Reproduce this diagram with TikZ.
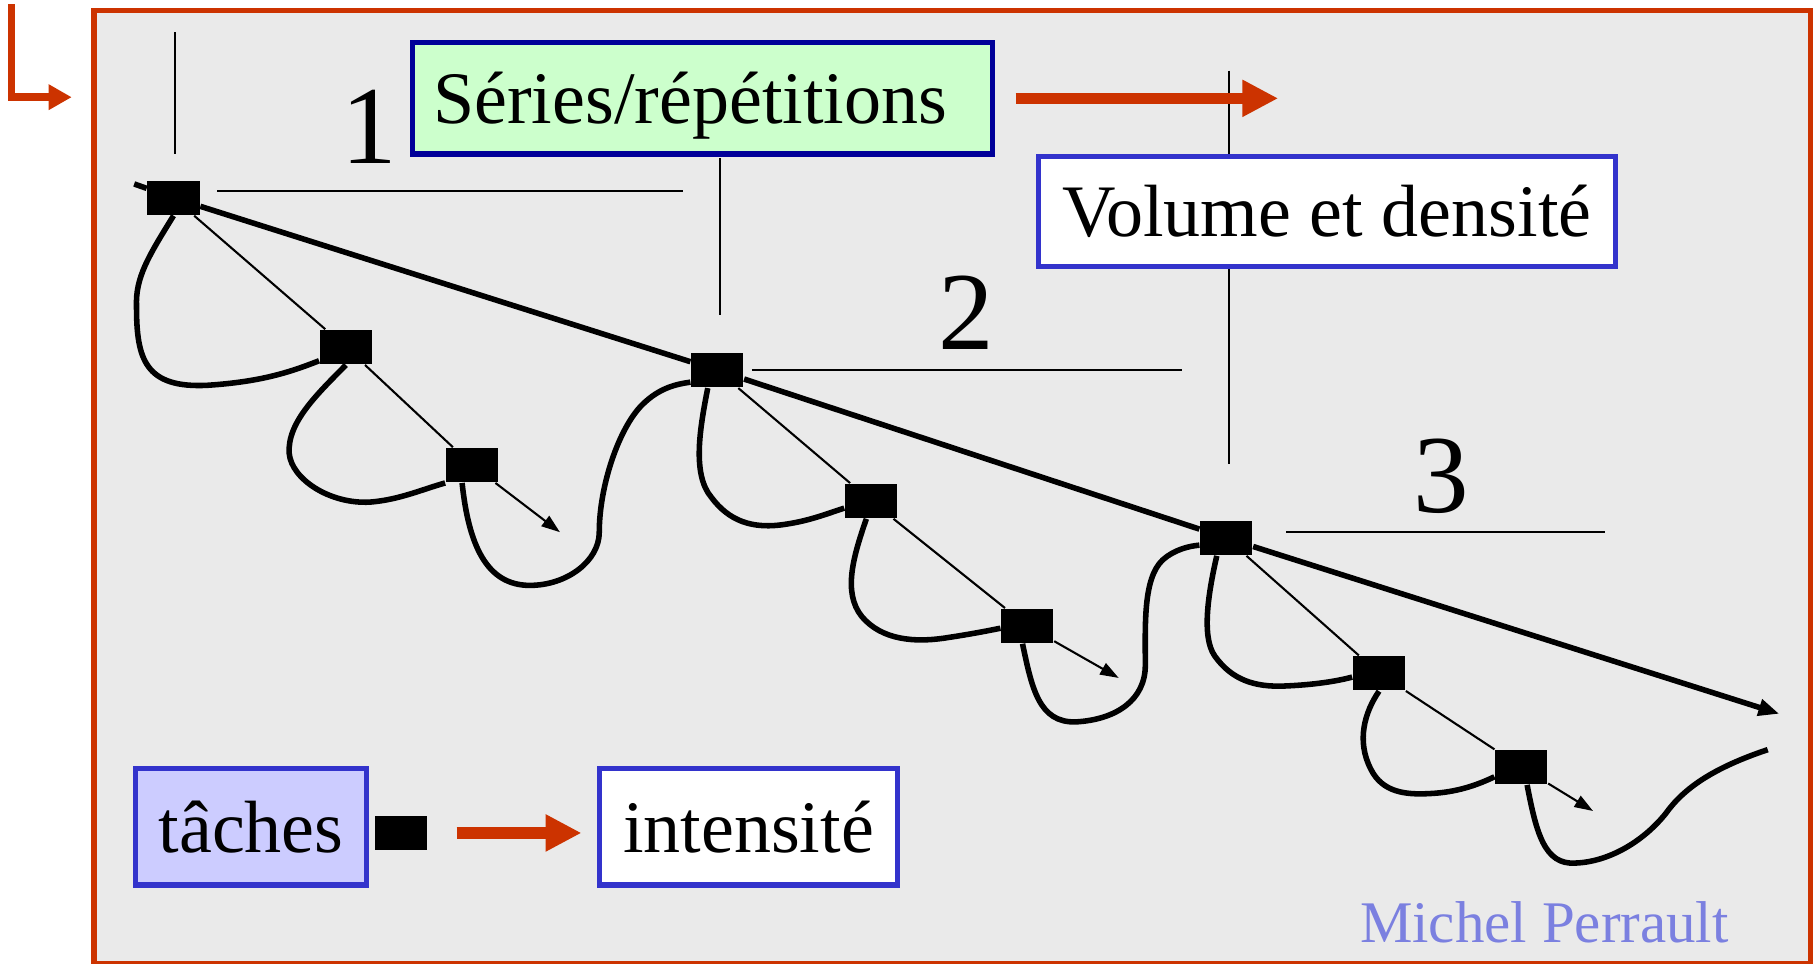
\documentclass[tikz,border=0pt]{standalone}
\usepackage{fontspec}
\setmainfont{Liberation Serif}
\usetikzlibrary{arrows.meta}
\definecolor{framered}{HTML}{CC3300}
\definecolor{framegray}{HTML}{EAEAEA}
\definecolor{navy}{HTML}{000099}
\definecolor{boxblue}{HTML}{3333CC}
\definecolor{mint}{HTML}{CCFFCC}
\definecolor{lilac}{HTML}{CCCCFF}
\definecolor{signblue}{HTML}{7B80E0}
\newcommand\boxfont{\fontsize{18.2pt}{22pt}\selectfont}
\newcommand\numfont{\fontsize{27.3pt}{32pt}\selectfont}
\newcommand\signfont{\fontsize{14.5pt}{17pt}\selectfont}
\tikzset{
  task/.style={fill=black, minimum width=0.45cm, minimum height=0.295cm, inner sep=0pt},
  boxed/.style={draw=boxblue, line width=0.045cm, font=\boxfont, inner sep=0pt,
    text height=0.44cm, text depth=0pt, minimum height=1.01cm},
  wave/.style={line width=0.048cm},
  hair/.style={line width=0.018cm},
  redarrow/.style={framered, line width=0.1cm, -{Triangle[length=3.1mm,width=3mm]}},
  numlabel/.style={font=\numfont, inner sep=0pt}
}

\begin{document}
\begin{tikzpicture}[x=0.01cm, y=-0.01cm]
            \useasboundingbox (0,0) rectangle (1568,833);
            \draw[framered, fill=framegray, line width=0.05cm] (81.5,9) rectangle (1565,833);
            \draw[framered, line width=0.065cm, -{Triangle[length=2mm,width=2.1mm]}] (10,3.5) -- (10,84) -- (62,84);

            \draw[hair] (151,28) -- (151,133);
            \draw[hair] (622,137) -- (622,272);
            \draw[hair] (1062,61) -- (1062,401);
            \draw[hair] (188,165) -- (590,165);
            \draw[hair] (650,320) -- (1022,320);
            \draw[hair] (1112,460) -- (1387,460);

            \node[boxed, draw=navy, fill=mint, text width=4.65cm, inner xsep=0.18cm, align=left,
              minimum height=0.96cm] (series) at (607,85) {Séries/répétitions};
            \node[boxed, fill=white, minimum width=4.98cm, minimum height=0.95cm] (volume) at (1147,182.5) {Volume et densité};
            \draw[redarrow, shorten <=0.18cm] (series.east) -- ++(245,0);

            \node[numlabel] (n1) at (319,110) {1};
            \node[numlabel] (n2) at (835,270) {2};
            \node[numlabel] (n3) at (1246,412) {3};

            \node[task] (a1) at (150,171) {};
            \node[task] (a2) at (299,300) {};
            \node[task] (a3) at (408,402) {};
            \node[task] (b1) at (620,320) {};
            \node[task] (b2) at (753,433) {};
            \node[task] (b3) at (888,541) {};
            \node[task] (c1) at (1060,465) {};
            \node[task] (c2) at (1192,582) {};
            \node[task] (c3) at (1315,663) {};

            \coordinate (mstart) at (116,159);
            \coordinate (mend) at (1538,617);
            \coordinate (atip) at (484,460);
            \coordinate (btip) at (967,586);
            \coordinate (ctip) at (1377,701);
            \coordinate (tail) at (1528,648);

            \draw[wave, -{Triangle[length=1.8mm,width=1.4mm]}] (mstart) -- (a1) -- (b1) -- (c1) -- (mend);
            \draw[hair, -{Triangle[length=1.6mm,width=1.1mm]}] (a1) -- (a2) -- (a3) -- (atip);
            \draw[hair, -{Triangle[length=1.6mm,width=1.1mm]}] (b1) -- (b2) -- (b3) -- (btip);
            \draw[hair, -{Triangle[length=1.6mm,width=1.1mm]}] (c1) -- (c2) -- (c3) -- (ctip);

            \draw[wave] (a1.south) .. controls (128,222) and (117,240) .. (118,265)
              .. controls (118,310) and (125,336) .. (180,333)
              .. controls (225,330) and (250,322) .. (a2.207);
            \draw[wave] (a2.south) .. controls (275,340) and (248,365) .. (250,392)
              .. controls (252,414) and (285,436) .. (320,434)
              .. controls (345,432) and (365,423) .. (a3.south west);
            \draw[wave] (a3.241) .. controls (405,470) and (420,506) .. (458,506)
              .. controls (490,506) and (518,485) .. (518,460)
              .. controls (518,420) and (535,370) .. (555,350)
              .. controls (570,335) and (585,332) .. (b1.204);
            \draw[wave] (b1.242) .. controls (605,370) and (598,410) .. (615,430)
              .. controls (630,450) and (650,458) .. (680,453)
              .. controls (700,450) and (715,444) .. (b2.195);
            \draw[wave] (b2.255) .. controls (738,480) and (728,512) .. (745,533)
              .. controls (762,553) and (790,556) .. (820,551)
              .. controls (840,548) and (855,545) .. (b3.185);
            \draw[wave] (b3.255) .. controls (892,595) and (898,625) .. (930,624)
              .. controls (965,622) and (990,605) .. (990,575)
              .. controls (990,540) and (988,500) .. (1005,484)
              .. controls (1015,475) and (1028,472) .. (c1.195);
            \draw[wave] (c1.242) .. controls (1045,510) and (1038,550) .. (1050,567)
              .. controls (1065,588) and (1085,594) .. (1110,593)
              .. controls (1135,592) and (1155,589) .. (c2.188);
            \draw[wave] (c2.south) .. controls (1180,615) and (1172,640) .. (1185,665)
              .. controls (1195,685) and (1215,687) .. (1235,686)
              .. controls (1260,685) and (1278,678) .. (c3.200);
            \draw[wave] (c3.288) .. controls (1328,720) and (1335,748) .. (1362,746)
              .. controls (1390,745) and (1420,728) .. (1440,703)
              .. controls (1455,682) and (1480,664) .. (tail);

            \node[boxed, fill=lilac, minimum width=2cm] (taches) at (217,714.5) {tâches};
            \node[task] (key) at (346.5,720) {};
            \node[boxed, fill=white, minimum width=2.58cm] (intens) at (647,714.5) {intensité};
            \draw[redarrow, shorten <=0.25cm, shorten >=0.13cm] (key) -- (key -| intens.west);

            \node[anchor=base, text=signblue, font=\signfont, inner sep=0pt] (sign) at (1335,815) {Michel Perrault};
        \end{tikzpicture}
\end{document}
